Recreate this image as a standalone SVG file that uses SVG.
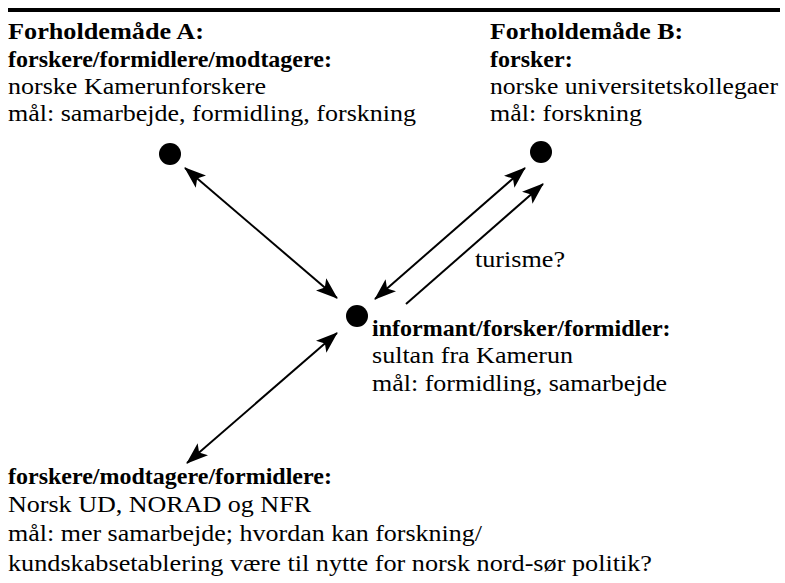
<svg xmlns="http://www.w3.org/2000/svg" width="785" height="583" viewBox="0 0 785 583">
<defs>
<style>
text{font-family:"Liberation Serif","Times New Roman",serif;font-size:24px;fill:#000}
.b{font-weight:bold}
.dot{fill:#000}
.c{stroke:#000;stroke-width:2;fill:none}
</style>
<marker id="ah" markerUnits="userSpaceOnUse" markerWidth="22" markerHeight="16" refX="21" refY="8" orient="auto-start-reverse" viewBox="0 0 22 16">
<path d="M0,0 L22,8 L0,16 L5,8 z" fill="#000"/>
</marker>
</defs>
<rect width="785" height="583" fill="#fff"/>
<line x1="8" y1="10" x2="780" y2="10" stroke="#000" stroke-width="4"/>
<g id="nodeA">
<text x="8" y="39" class="b" textLength="196" lengthAdjust="spacingAndGlyphs">Forholdemåde A:</text>
<text x="8" y="67" class="b">forskere/formidlere/modtagere:</text>
<text x="8" y="94" textLength="258" lengthAdjust="spacingAndGlyphs">norske Kamerunforskere</text>
<text x="8" y="121" textLength="408" lengthAdjust="spacingAndGlyphs">mål: samarbejde, formidling, forskning</text>
<circle class="dot" cx="170" cy="154" r="11"/>
</g>
<g id="nodeB">
<text x="490" y="39" class="b" textLength="193" lengthAdjust="spacingAndGlyphs">Forholdemåde B:</text>
<text x="490" y="67" class="b">forsker:</text>
<text x="490" y="94" textLength="288" lengthAdjust="spacingAndGlyphs">norske universitetskollegaer</text>
<text x="490" y="121" textLength="152" lengthAdjust="spacingAndGlyphs">mål: forskning</text>
<circle class="dot" cx="541" cy="152" r="11"/>
</g>
<g id="nodeC">
<circle class="dot" cx="357" cy="316" r="11"/>
<text x="372" y="336" class="b">informant/forsker/formidler:</text>
<text x="372" y="363" textLength="201" lengthAdjust="spacingAndGlyphs">sultan fra Kamerun</text>
<text x="372" y="391" textLength="295" lengthAdjust="spacingAndGlyphs">mål: formidling, samarbejde</text>
</g>
<g id="nodeD">
<text x="8" y="484" class="b">forskere/modtagere/formidlere:</text>
<text x="8" y="512" textLength="303" lengthAdjust="spacingAndGlyphs">Norsk UD, NORAD og NFR</text>
<text x="8" y="541" textLength="474" lengthAdjust="spacingAndGlyphs">mål: mer samarbejde; hvordan kan forskning/</text>
<text x="8" y="571" textLength="644" lengthAdjust="spacingAndGlyphs">kundskabsetablering være til nytte for norsk nord-sør politik?</text>
</g>
<g id="connectors">
<line class="c" x1="185" y1="168" x2="337" y2="298" marker-start="url(#ah)" marker-end="url(#ah)"/>
<line class="c" x1="375" y1="299" x2="525" y2="168" marker-start="url(#ah)" marker-end="url(#ah)"/>
<line class="c" x1="406" y1="304" x2="543" y2="184" marker-end="url(#ah)"/>
<line class="c" x1="187" y1="463" x2="337" y2="333" marker-start="url(#ah)" marker-end="url(#ah)"/>
<text x="475" y="267" textLength="90" lengthAdjust="spacingAndGlyphs">turisme?</text>
</g>
</svg>
